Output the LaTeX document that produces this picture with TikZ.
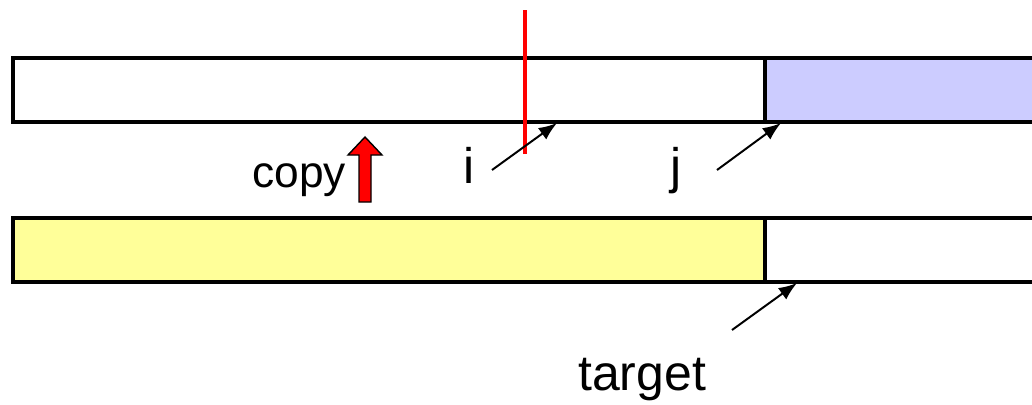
\documentclass[tikz,border=0pt]{standalone}
\usepackage{fontspec}
\setmainfont{Liberation Sans}
\usepackage{tikz}
\usetikzlibrary{arrows.meta}
\definecolor{bluecell}{RGB}{204,204,255}
\definecolor{yellowcell}{RGB}{255,255,153}

\begin{document}
\begin{tikzpicture}[x=0.025cm,y=-0.025cm,->,>={Latex[length=13pt,width=10pt]},line join=miter]
 \tikzstyle{bar}=[-,line width=2.2pt]
 \tikzstyle{pointer}=[->,line width=1.4pt]
 \tikzstyle{lbl}=[inner sep=0pt,anchor=base west,font=\fontsize{35.5}{40}\selectfont]
   \useasboundingbox (0,0) rectangle (1032,404);

   % the two arrays, open at the right
   \fill[bluecell] (765,58) rectangle (1040,122);
   \fill[yellowcell] (13,218) rectangle (765,282);
   \draw[bar] (1040,58) -- (13,58) -- (13,122) -- (1040,122);
   \draw[bar] (765,58) -- (765,122);
   \draw[bar] (1040,218) -- (13,218) -- (13,282) -- (1040,282);
   \draw[bar] (765,218) -- (765,282);

   % cut line
   \draw[-,red,line width=2.8pt] (525,10) -- (525,154);

   % copy arrow
   \node[lbl,font=\fontsize{31.5}{36}\selectfont] (copy) at (252,187) {copy};
   \draw[-,fill=red,line width=1pt] (365,137) -- (382,155) -- (371,155) -- (371,202)
     -- (359,202) -- (359,155) -- (348,155) -- cycle;

   % indices
   \node[lbl] (i) at (463,183) {i};
   \node[lbl] (j) at (670,183) {j};
   \node[lbl] (target) at (578,390) {target};

   \coordinate (ifrom) at (492,170);
   \coordinate (ito) at (557,123);
   \coordinate (jfrom) at (717,170);
   \coordinate (jto) at (781,123);
   \coordinate (tfrom) at (732,330);
   \coordinate (tto) at (797,283);

   \path[pointer]
   (ifrom) edge (ito)
   (jfrom) edge (jto)
   (tfrom) edge (tto);

\end{tikzpicture}
\end{document}
